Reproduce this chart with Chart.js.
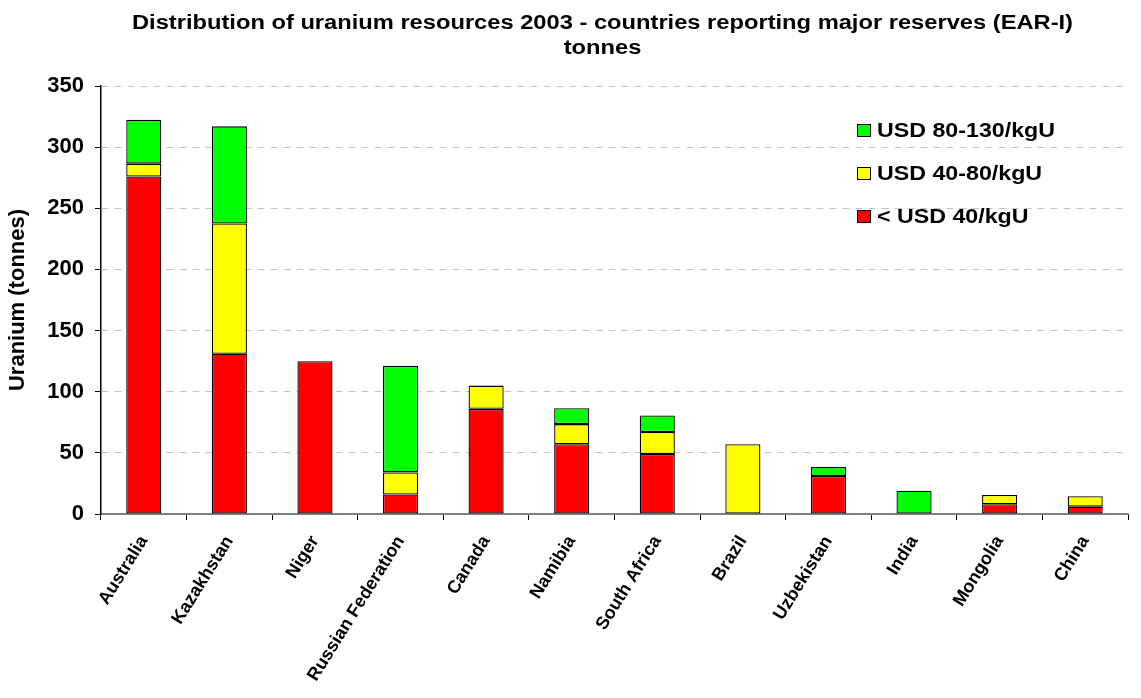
<!DOCTYPE html>
<html>
<head>
<meta charset="utf-8">
<script src="https://cdn.jsdelivr.net/npm/chart.js@4.4.0/dist/chart.umd.min.js"></script>
<style>
  html, body { margin: 0; padding: 0; background: #ffffff; }
  #wrap { position: relative; width: 1141px; height: 698px; }
  canvas { display: block; }
</style>
</head>
<body>
<div id="wrap"><canvas id="c" width="1141" height="698"></canvas></div>
<script>
const categories = ["Australia", "Kazakhstan", "Niger", "Russian Federation", "Canada", "Namibia", "South Africa", "Brazil", "Uzbekistan", "India", "Mongolia", "China"];
const below40 = [276, 131, 125, 16, 86, 57, 49, 0, 31, 0, 8, 6];
const usd40to80 = [10.5, 106.5, 0, 18, 19, 16.5, 18, 57, 0, 0, 7.5, 8.5];
const usd80to130 = [36, 79.5, 0, 87, 0, 13, 13.5, 0, 7.5, 19, 0, 0];
const seriesNames = ["< USD 40/kgU", "USD 40-80/kgU", "USD 80-130/kgU"];
const seriesColors = ["#ff0000", "#ffff00", "#00ff00"];
const titleLines = ["Distribution of uranium resources 2003 - countries reporting major reserves (EAR-I)", "tonnes"];
const yTitle = "Uranium (tonnes)";

const FONT = "'Liberation Sans', Arial, sans-serif";

const titlePlugin = {
  id: 'customTitle',
  afterDraw(chart) {
    const ctx = chart.ctx;
    ctx.save();
    ctx.fillStyle = '#000';
    ctx.font = "bold 20px " + FONT;
    ctx.textAlign = 'center';
    ctx.textBaseline = 'middle';
    const cx = 602.5;
    const w0 = ctx.measureText(titleLines[0]).width;
    const sx = 941 / w0;
    ctx.translate(cx, 0);
    ctx.scale(sx, 1);
    ctx.fillText(titleLines[0], 0, 23);
    ctx.fillText(titleLines[1], 0, 48);
    ctx.restore();
  }
};

const legendPlugin = {
  id: 'customLegend',
  afterDraw(chart) {
    const ctx = chart.ctx;
    ctx.save();
    ctx.font = "bold 20px " + FONT;
    ctx.textBaseline = 'middle';
    ctx.textAlign = 'left';
    const sx = 178 / ctx.measureText(seriesNames[2]).width;
    const order = [2, 1, 0];
    order.forEach((si, i) => {
      const y = 130 + i * 43;
      ctx.fillStyle = seriesColors[si];
      ctx.fillRect(857.5, y - 5.5, 13, 12);
      ctx.strokeStyle = '#000';
      ctx.lineWidth = 1;
      ctx.strokeRect(857.5, y - 5.5, 13, 12);
      ctx.save();
      ctx.translate(877, 0);
      ctx.scale(sx, 1);
      ctx.fillStyle = '#000';
      ctx.fillText(seriesNames[si], 0, y + 1);
      ctx.restore();
    });
    ctx.restore();
  }
};

const datasets = [below40, usd40to80, usd80to130].map((d, i) => ({
  label: seriesNames[i],
  data: d,
  backgroundColor: seriesColors[i],
  borderColor: '#000',
  borderWidth: 1.3,
  borderSkipped: false,
  categoryPercentage: 1.0,
  barPercentage: 0.41
}));

new Chart(document.getElementById('c'), {
  type: 'bar',
  data: { labels: categories, datasets },
  options: {
    responsive: false,
    animation: false,
    devicePixelRatio: 1,
    layout: { padding: { top: 86, right: 13, left: 0, bottom: 0 } },
    plugins: {
      legend: { display: false },
      title: { display: false },
      tooltip: { enabled: false }
    },
    scales: {
      x: {
        stacked: true,
        offset: true,
        afterFit(scale) { scale.height = 184; },
        grid: {
          display: true,
          drawOnChartArea: false,
          drawTicks: true,
          tickLength: 6,
          offset: true,
          color: '#000'
        },
        border: { display: true, color: '#808080', width: 2 },
        ticks: {
          color: '#000',
          font: { family: FONT, size: 18, weight: 'bold' },
          maxRotation: 58,
          minRotation: 58,
          autoSkip: false,
          padding: 12
        }
      },
      y: {
        stacked: true,
        min: 0,
        max: 350,
        afterFit(scale) { scale.width = 101; },
        ticks: {
          stepSize: 50,
          color: '#000',
          font: { family: FONT, size: 22, weight: 'bold' },
          padding: 11
        },
        grid: {
          color: (c) => c.tick && c.tick.value === 0 ? 'rgba(0,0,0,0)' : '#c4c4c4',
          tickColor: '#000',
          tickLength: 6,
          drawTicks: true
        },
        border: { display: true, color: '#000', width: 1.5, dash: [7, 6] },
        title: {
          display: true,
          text: yTitle,
          color: '#000',
          font: { family: FONT, size: 22, weight: 'bold' },
          padding: { top: 5, bottom: 0 }
        }
      }
    }
  },
  plugins: [titlePlugin, legendPlugin]
});
</script>
</body>
</html>
